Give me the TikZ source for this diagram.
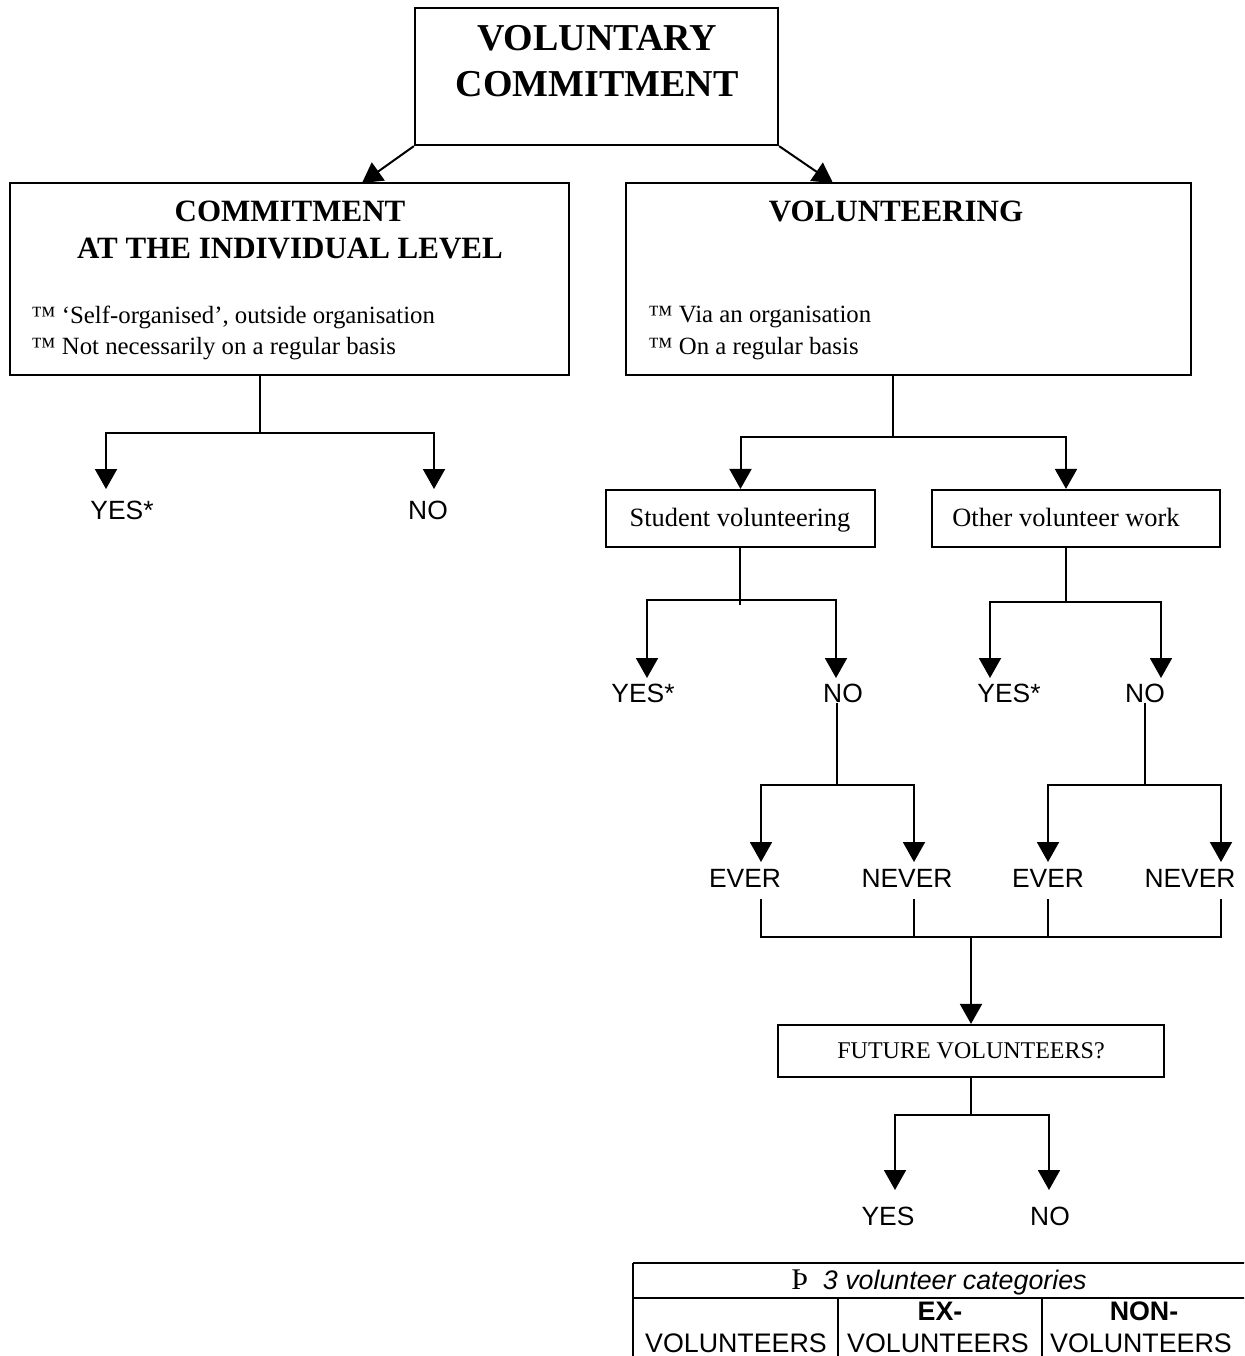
\documentclass[tikz,border=0pt]{standalone}
\usepackage{fontspec}
\setmainfont{Liberation Serif}
\setsansfont{Liberation Sans}
\usetikzlibrary{arrows.meta}

\tikzset{
  box/.style={draw, line width=1.1pt, inner sep=0pt},
  ln/.style={line width=1pt},
  arr/.style={ln, -{Triangle[length=10pt,width=11pt]}},
  tbl/.style={line width=1.4pt},
  big/.style={font=\bfseries\fontsize{19}{21}\selectfont, inner sep=0pt},
  head/.style={font=\bfseries\fontsize{15.5}{17}\selectfont, inner sep=0pt},
  itm/.style={anchor=west, font=\fontsize{12.4}{14}\selectfont, inner sep=0pt},
  txt/.style={font=\fontsize{13.2}{15}\selectfont, inner sep=0pt},
  ans/.style={font=\sffamily\fontsize{13.2}{15}\selectfont, inner sep=0pt},
  cell/.style={font=\sffamily\fontsize{13.4}{15}\selectfont, inner sep=0pt},
}

\begin{document}
\begin{tikzpicture}[x=0.5pt,y=-0.5pt]
  \useasboundingbox (0,0) rectangle (1244,1356);
  \clip (0,0) rectangle (1244,1356);

  % boxes
  \node[box, minimum width=181.5pt, minimum height=68.5pt] (top) at (596.5,76.5) {};
  \node[box, minimum width=279.5pt, minimum height=96pt] (indiv) at (289.5,279) {};
  \node[box, minimum width=282.5pt, minimum height=96pt] (volun) at (908.5,279) {};
  \node[box, minimum width=134.5pt, minimum height=28.5pt] (stud) at (740.5,518.5) {};
  \node[box, minimum width=144pt, minimum height=28.5pt] (other) at (1076,518.5) {};
  \node[box, minimum width=193pt, minimum height=26pt,
        font=\fontsize{12}{14}\selectfont] (future) at (971,1051) {FUTURE VOLUNTEERS?};

  % box texts
  \node[big] (topA) at (597,38) {VOLUNTARY};
  \node[big] (topB) at (597,84) {COMMITMENT};
  \node[head] (indA) at (290,211) {COMMITMENT};
  \node[head] (indB) at (290,248) {AT THE INDIVIDUAL LEVEL};
  \node[itm] (ind1) at (31,317) {™ ‘Self-organised’, outside organisation};
  \node[itm] (ind2) at (31,349) {™ Not necessarily on a regular basis};
  \node[head] (volA) at (896,211) {VOLUNTEERING};
  \node[itm] (vol1) at (648,317) {™ Via an organisation};
  \node[itm] (vol2) at (648,349) {™ On a regular basis};
  \node[txt, anchor=base] (studT) at (740,526) {Student volunteering};
  \node[txt, anchor=base] (othT) at (1066,526) {Other volunteer work};

  % answers
  \node[ans] (yes1) at (122,510) {YES*};
  \node[ans] (no1) at (428,510) {NO};
  \node[ans] (yes2) at (643,693) {YES*};
  \node[ans] (no2) at (843,693) {NO};
  \node[ans] (yes3) at (1009,693) {YES*};
  \node[ans] (no3) at (1145,693) {NO};
  \node[ans] (ever1) at (745,878) {EVER};
  \node[ans] (never1) at (907,878) {NEVER};
  \node[ans] (ever2) at (1048,878) {EVER};
  \node[ans] (never2) at (1190,878) {NEVER};
  \node[ans] (yes4) at (888,1216) {YES};
  \node[ans] (no4) at (1050,1216) {NO};

  % junctions
  \coordinate (ta1) at (362,183);
  \coordinate (ta2) at (833,183);
  \coordinate (lj) at (260,433);
  \coordinate (lyA) at (106,489);
  \coordinate (lnA) at (434,489);
  \coordinate (rj) at (893,437);
  \coordinate (sj) at (740,600);
  \coordinate (syA) at (647,678);
  \coordinate (snA) at (836,678);
  \coordinate (oj) at (1066,602);
  \coordinate (oyA) at (990,678);
  \coordinate (onA) at (1161,678);
  \coordinate (nj1) at (837,785);
  \coordinate (neA) at (761,862);
  \coordinate (nnA) at (914,862);
  \coordinate (nj2) at (1145,785);
  \coordinate (neB) at (1048,862);
  \coordinate (nnB) at (1221,862);
  \coordinate (m1) at (761,899);
  \coordinate (m2) at (914,899);
  \coordinate (m3) at (1048,899);
  \coordinate (m4) at (1221,899);
  \coordinate (mj) at (971,937);
  \coordinate (fj) at (971,1115);
  \coordinate (fyA) at (895,1190);
  \coordinate (fnA) at (1049,1190);

  % connectors
  \draw[arr] (top.south west) -- (ta1);
  \draw[arr] (top.south east) -- (ta2);

  \draw[ln] (indiv.south -| lj) -- (lj);
  \draw[arr] (lj) -| (lyA);
  \draw[arr] (lj) -| (lnA);

  \draw[ln] (volun.south -| rj) -- (rj);
  \draw[arr] (rj) -| (stud.north);
  \draw[arr] (rj) -| (other.north -| oj);

  \draw[ln] (stud.south -| sj) -- ([yshift=-2.5pt]sj);
  \draw[arr] (sj) -| (syA);
  \draw[arr] (sj) -| (snA);

  \draw[ln] (other.south -| oj) -- (oj);
  \draw[arr] (oj) -| (oyA);
  \draw[arr] (oj) -| (onA);

  \draw[ln] (no2.south -| nj1) -- (nj1);
  \draw[arr] (nj1) -| (neA);
  \draw[arr] (nj1) -| (nnA);

  \draw[ln] (no3.south -| nj2) -- (nj2);
  \draw[arr] (nj2) -| (neB);
  \draw[arr] (nj2) -| (nnB);

  \draw[ln] (m1) |- (mj) -| (m4);
  \draw[ln] (m2) -- (m2 |- mj);
  \draw[ln] (m3) -- (m3 |- mj);
  \draw[arr] (mj) -- (future.north -| mj);

  \draw[ln] (future.south -| fj) -- (fj);
  \draw[arr] (fj) -| (fyA);
  \draw[arr] (fj) -| (fnA);

  % categories table
  \draw[tbl] (633,1263) -- (1250,1263);
  \draw[tbl] (633,1298) -- (1250,1298);
  \draw[tbl] (633,1263) -- (633,1370);
  \draw[tbl] (838,1298) -- (838,1370);
  \draw[tbl] (1042,1298) -- (1042,1370);

  \node[cell, anchor=base] (cat) at (939,1289)
    {{\rmfamily\fontsize{15}{16}\selectfont Þ}\ \ \textit{3 volunteer categories}};
  \node[cell, font=\sffamily\bfseries\fontsize{13.4}{15}\selectfont] (exh) at (940,1311) {EX-};
  \node[cell, font=\sffamily\bfseries\fontsize{13.4}{15}\selectfont] (nonh) at (1144,1311) {NON-};
  \node[cell] (cat1) at (736,1343) {VOLUNTEERS};
  \node[cell] (cat2) at (938,1343) {VOLUNTEERS};
  \node[cell] (cat3) at (1141,1343) {VOLUNTEERS};
\end{tikzpicture}
\end{document}
